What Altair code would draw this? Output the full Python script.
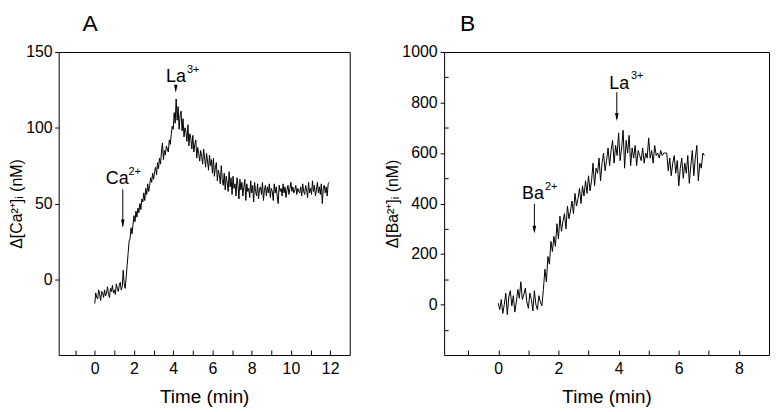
import altair as alt
import pandas as pd

FONT = "Liberation Sans"

# ---------------- Panel A data: Δ[Ca2+]i (nM), sampled every 0.05 min ----------------
ca_values = [
    -16, -9, -12, -13, -7, -10, -14, -8, -9, -12,
    -7, -11, -9, -5, -10, -12, -6, -8, -4, -9,
    -7, -10, -3, -6, -8, -4, -2, -7, -5, 6,
    -3, -6, 1, 9, 17, 25, 27, 34, 30, 36,
    42, 38, 45, 41, 47, 44, 50, 46, 53, 51,
    57, 52, 60, 56, 63, 58, 62, 67, 64, 70,
    66, 71, 74, 69, 77, 73, 80, 76, 84, 90,
    79, 85, 82, 88, 86, 84, 92, 89, 96, 101,
    99, 110, 103, 119, 105, 114, 99, 108, 111, 98,
    106, 94, 100, 97, 91, 102, 88, 96, 93, 86,
    95, 84, 89, 92, 80, 87, 83, 78, 85, 81,
    76, 86, 80, 74, 83, 78, 72, 82, 75, 79,
    70, 80, 68, 74, 77, 65, 72, 69, 63, 75,
    66, 62, 70, 59, 68, 64, 58, 71, 61, 67,
    56, 68, 60, 63, 55, 67, 62, 53, 66, 59,
    64, 55, 61, 66, 52, 63, 58, 60, 54, 65,
    57, 62, 51, 64, 58, 55, 63, 53, 60, 61,
    56, 64, 52, 59, 62, 55, 61, 57, 63, 54,
    60, 58, 52, 63, 57, 61, 55, 50, 62, 58,
    60, 55, 63, 57, 61, 54, 59, 62, 56, 60,
    64, 58, 61, 57, 59, 62, 56, 60, 58, 57,
    61, 55, 63, 58, 56, 62, 59, 54, 64, 57,
    60, 56, 65, 58, 62, 55, 59, 64, 57, 61,
    56, 63, 50, 60, 62, 57, 61, 55, 63, 64,
]
ca_time = [round(0.05 * i, 2) for i in range(len(ca_values))]

# ---------------- Panel B data: Δ[Ba2+]i (nM), sampled every 0.05 min ----------------
ba_values = [
    5, -20, 20, -35, 0, 45, -40, 30, 55, -5,
    35, -30, 10, 60, 25, 90, 20, 40, 65, 10,
    -15, 45, 20, -25, 55, 0, -20, 35, 10, -5,
    60, 140, 90, 190, 160, 250, 210, 270, 230, 320,
    260, 350, 290, 330, 360, 300, 390, 340, 370, 410,
    360, 440, 390, 420, 460, 400, 470, 430, 490, 440,
    510, 450, 490, 560, 470, 540, 520, 580, 490, 560,
    600, 530, 570, 620, 550, 610, 650, 560, 630, 590,
    680, 570, 620, 690, 540, 650, 600, 670, 550, 620,
    580, 630, 550, 610, 590, 570, 620, 560, 600, 580,
    660, 580, 610, 560, 630, 590, 600, 580, 610, 590,
    600, 600, 600, 530, 580, 510, 560, 590, 520, 570,
    470, 540, 580, 500, 560, 520, 590, 480, 550, 610,
    510, 580, 630, 490, 560, 540, 600, 590,
]
ba_time = [round(0.05 * i, 2) for i in range(len(ba_values))]

# ---------------- Axis tick values ----------------
a_x_ticks = list(range(-1, 13))
a_y_major = [0, 50, 100, 150]
b_x_ticks = list(range(-1, 9))
b_y_major = [0, 200, 400, 600, 800, 1000]
b_y_minor = [-100, 100, 300, 500, 700, 900]

# ---------------- Annotations (data units) ----------------
a_lab_text = ["Ca", "La"]
a_lab_x = [0.56, 3.63]
a_lab_y = [63.1, 130.3]
a_sup_text = ["2+", "3+"]
a_sup_x = [1.72, 4.70]
a_sup_y = [74.5, 142.0]
a_arrow_x = [1.43]
a_arrow_top = [59.4]
a_arrow_tip = [35.0]
a_head_x = [1.43, 4.13]
a_head_y = [34.2, 123.2]

b_lab_text = ["Ba", "La"]
b_lab_x = [0.79, 3.69]
b_lab_y = [416, 855]
b_sup_text = ["2+", "3+"]
b_sup_x = [1.55, 4.41]
b_sup_y = [488, 928]
b_arrow_x = [1.2, 3.94]
b_arrow_top = [399, 841]
b_arrow_tip = [290, 735]
b_head_x = [1.2, 3.94]
b_head_y = [281, 727]

HEAD = "M-0.45,-2L0.45,-2L0,0Z"


def panel(times, values, xdom, ydom, xticks, ymajor, yminor, ytitle, letter, letter_dx,
          w, h, lab_text, lab_x, lab_y, sup_text, sup_x, sup_y,
          arr_x, arr_top, arr_tip, head_x, head_y, ylab_pad, ytitle_pad):
    df = pd.DataFrame({"t": times, "v": values})
    xs = alt.Scale(domain=xdom, nice=False, zero=False)
    ys = alt.Scale(domain=ydom, nice=False, zero=False)
    xaxis = alt.Axis(
        values=xticks, orient="bottom", offset=-5, tickSize=5, tickColor="black",
        domain=False, grid=False, labelFont=FONT, labelFontSize=16, labelColor="black",
        labelPadding=6, labelExpr="datum.value % 2 == 0 ? datum.label : ''",
        labelFlush=False, labelOverlap=False,
        title="Time (min)", titleFont=FONT, titleFontSize=19, titleFontWeight="normal",
        titleColor="black", titlePadding=11,
    )
    yaxis = alt.Axis(
        values=ymajor, orient="left", tickSize=4, tickColor="black", domain=False,
        grid=False, labelFont=FONT, labelFontSize=16, labelColor="black",
        labelPadding=ylab_pad, labelFlush=False, labelOverlap=False, format="d",
        title=ytitle, titleFont=FONT, titleFontSize=16, titleFontWeight="normal",
        titleColor="black", titlePadding=ytitle_pad,
    )
    line = alt.Chart(df).mark_line(color="black", strokeWidth=1).encode(
        x=alt.X("t:Q", scale=xs, axis=xaxis),
        y=alt.Y("v:Q", scale=ys, axis=yaxis),
    )
    layers = [line]
    if yminor:
        yminor_axis = alt.Axis(
            values=yminor, orient="left", offset=-4, tickSize=4, tickColor="black",
            domain=False, grid=False, labels=False, title=None,
        )
        minor = alt.Chart(df).mark_line(opacity=0).encode(
            x=alt.X("t:Q", scale=xs, axis=None),
            y=alt.Y("v:Q", scale=ys, axis=yminor_axis),
        )
        layers.append(minor)

    lab_df = pd.DataFrame({"x": lab_x, "y": lab_y, "s": lab_text})
    sup_df = pd.DataFrame({"x": sup_x, "y": sup_y, "s": sup_text})
    arr_df = pd.DataFrame({"x": arr_x, "y": arr_top, "y2": arr_tip})
    head_df = pd.DataFrame({"x": head_x, "y": head_y})

    labels = alt.Chart(lab_df).mark_text(
        font=FONT, fontSize=18, align="left", baseline="alphabetic", color="black"
    ).encode(x=alt.X("x:Q", scale=xs, axis=None), y=alt.Y("y:Q", scale=ys, axis=None), text="s:N")
    sups = alt.Chart(sup_df).mark_text(
        font=FONT, fontSize=11, align="left", baseline="top", color="black"
    ).encode(x=alt.X("x:Q", scale=xs, axis=None), y=alt.Y("y:Q", scale=ys, axis=None), text="s:N")
    shafts = alt.Chart(arr_df).mark_rule(color="black", strokeWidth=1).encode(
        x=alt.X("x:Q", scale=xs, axis=None), y=alt.Y("y:Q", scale=ys, axis=None), y2="y2:Q"
    )
    heads = alt.Chart(head_df).mark_point(
        shape=HEAD, filled=True, color="black", size=64, opacity=1, strokeWidth=0
    ).encode(x=alt.X("x:Q", scale=xs, axis=None), y=alt.Y("y:Q", scale=ys, axis=None))
    layers += [labels, sups, shafts, heads]

    return alt.layer(*layers).resolve_axis(x="independent", y="independent").properties(
        width=w, height=h,
        title=alt.TitleParams(
            letter, anchor="start", frame="group", dx=letter_dx, offset=8,
            font=FONT, fontSize=23, fontWeight="normal", color="black",
        ),
    )


pA = panel(ca_time, ca_values, [-1.84, 13], [-50, 150], a_x_ticks, a_y_major, None,
           "Δ[Ca²⁺]ᵢ (nM)", "A", 24, 293, 305,
           a_lab_text, a_lab_x, a_lab_y, a_sup_text, a_sup_x, a_sup_y,
           a_arrow_x, a_arrow_top, a_arrow_tip, a_head_x, a_head_y, 2.5, 1)
pB = panel(ba_time, ba_values, [-1.8, 9], [-200, 1000], b_x_ticks, b_y_major, b_y_minor,
           "Δ[Ba²⁺]ᵢ (nM)", "B", 16, 327, 305,
           b_lab_text, b_lab_x, b_lab_y, b_sup_text, b_sup_x, b_sup_y,
           b_arrow_x, b_arrow_top, b_arrow_tip, b_head_x, b_head_y, 3, 1)

chart = alt.hconcat(pA, pB, spacing=33).properties(
    padding={"left": 0, "top": 3, "right": 0, "bottom": 0}
).configure(background="white").configure_view(stroke="black", strokeWidth=1)

chart.save("out.html", embed_options={"renderer": "svg", "actions": False})
